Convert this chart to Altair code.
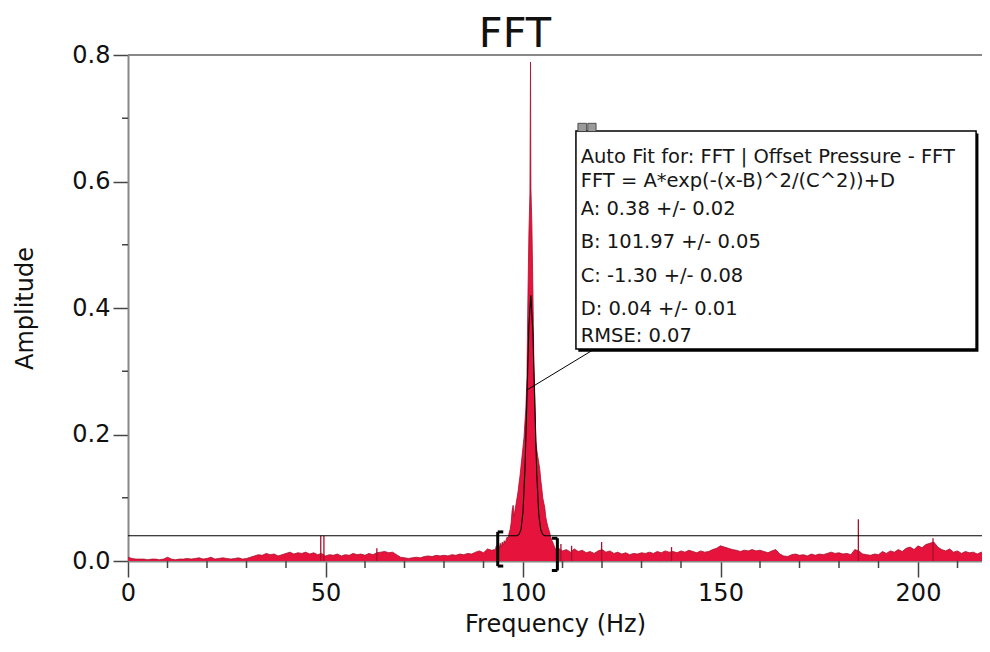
import altair as alt
import pandas as pd

FONT = "DejaVu Sans"
FILL = "#E6143C"
EDGE = "#A80F2C"
AXIS_GRAY = "#888888"
TICK = "#444444"

# ---------------- spectrum values ----------------
freq_low = list(range(0, 93))
amp_low = [
    0.006, 0.004, 0.003, 0.003, 0.003, 0.002, 0.003, 0.003, 0.002, 0.003,
    0.006, 0.003, 0.002, 0.003, 0.003, 0.004, 0.003, 0.004, 0.005, 0.003,
    0.004, 0.006, 0.003, 0.004, 0.005, 0.004, 0.003, 0.004, 0.005, 0.003,
    0.004, 0.006, 0.008, 0.010, 0.009, 0.012, 0.010, 0.011, 0.008, 0.010,
    0.012, 0.014, 0.011, 0.013, 0.012, 0.014, 0.011, 0.013, 0.010, 0.012,
    0.008, 0.010, 0.009, 0.011, 0.008, 0.010, 0.009, 0.012, 0.010, 0.011,
    0.009, 0.012, 0.010, 0.013, 0.014, 0.015, 0.013, 0.014, 0.010, 0.006,
    0.005, 0.004, 0.005, 0.006, 0.005, 0.007, 0.008, 0.007, 0.009, 0.008,
    0.009, 0.008, 0.010, 0.009, 0.011, 0.010, 0.012, 0.011, 0.014, 0.016,
    0.013, 0.019, 0.017,
]

freq_peak = [
    93.0, 93.25, 93.5, 93.75, 94.0, 94.25, 94.5, 94.75, 95.0, 95.25,
    95.5, 95.75, 96.0, 96.25, 96.5, 96.75, 97.0, 97.25, 97.5, 97.75,
    98.0, 98.25, 98.5, 98.75, 99.0, 99.25, 99.5, 99.75, 100.0, 100.25,
    100.5, 100.75, 101.0, 101.25, 101.5, 101.75, 101.9, 102.0, 102.25, 102.5,
    102.75, 103.0, 103.25, 103.5, 103.75, 104.0, 104.25, 104.5, 104.75, 105.0,
    105.25, 105.5, 105.75, 106.0, 106.25, 106.5, 106.75, 107.0, 107.25, 107.5,
    107.75, 108.0, 108.25, 108.5, 108.75,
]
amp_peak = [
    0.018, 0.024, 0.015, 0.026, 0.020, 0.028, 0.022, 0.030, 0.025, 0.032,
    0.028, 0.034, 0.038, 0.036, 0.045, 0.050, 0.060, 0.080, 0.088, 0.070,
    0.082, 0.090, 0.100, 0.110, 0.123, 0.135, 0.150, 0.165, 0.180, 0.195,
    0.220, 0.245, 0.290, 0.420, 0.520, 0.580, 0.789, 0.590, 0.530, 0.430,
    0.310, 0.260, 0.190, 0.175, 0.165, 0.155, 0.145, 0.128, 0.115, 0.100,
    0.092, 0.085, 0.070, 0.062, 0.055, 0.050, 0.045, 0.038, 0.033, 0.030,
    0.026, 0.022, 0.018, 0.021, 0.016,
]

freq_high = list(range(109, 219))
amp_high = [
    0.020, 0.016, 0.018, 0.014, 0.019, 0.015, 0.017, 0.013, 0.015, 0.012,
    0.016, 0.018, 0.014, 0.016, 0.012, 0.014, 0.011, 0.013, 0.010, 0.012,
    0.011, 0.013, 0.012, 0.014, 0.012, 0.015, 0.013, 0.016, 0.014, 0.015,
    0.013, 0.016, 0.014, 0.017, 0.015, 0.013, 0.016, 0.014, 0.015, 0.018,
    0.020, 0.024, 0.022, 0.020, 0.018, 0.017, 0.015, 0.017, 0.016, 0.018,
    0.016, 0.017, 0.015, 0.013, 0.016, 0.018, 0.011, 0.008, 0.007, 0.010,
    0.011, 0.009, 0.010, 0.008, 0.011, 0.009, 0.011, 0.010, 0.012, 0.014,
    0.012, 0.013, 0.011, 0.012, 0.010, 0.018, 0.016, 0.011, 0.010, 0.009,
    0.011, 0.010, 0.015, 0.012, 0.016, 0.014, 0.018, 0.015, 0.020, 0.022,
    0.018, 0.024, 0.021, 0.026, 0.028, 0.030, 0.022, 0.018, 0.016, 0.019,
    0.014, 0.016, 0.012, 0.015, 0.013, 0.014, 0.011, 0.014, 0.012, 0.013,
]

# narrow single-bin spikes
spike_freq = [48.8, 49.6, 63.0, 109.6, 112.3, 119.9, 137.6, 184.9, 203.8]
spike_amp = [0.040, 0.040, 0.020, 0.027, 0.024, 0.030, 0.022, 0.066, 0.036]

# Gaussian fit curve as drawn
fit_freq = [0, 98.5, 99.0, 99.5, 100.0, 100.5, 101.0, 101.5, 101.97,
            102.5, 103.0, 103.5, 104.0, 104.5, 105.0, 105.5, 218.2]
fit_amp = [0.040, 0.040, 0.042, 0.050, 0.078, 0.146, 0.258, 0.373, 0.420,
           0.362, 0.243, 0.135, 0.073, 0.049, 0.042, 0.040, 0.040]

# fit-range brackets  (x, x2, y, y2)
br_x = [93.6, 93.6, 93.6, 108.7, 107.3, 107.3]
br_x2 = [93.6, 95.0, 95.0, 108.7, 108.7, 108.7]
br_y = [-0.008, 0.046, -0.008, -0.015, 0.036, -0.015]
br_y2 = [0.046, 0.046, -0.008, 0.036, 0.036, -0.015]

# annotation box
box_x, box_x2, box_y, box_y2 = 113.4, 214.7, 0.335, 0.680
leader = [117.8, 100.9, 0.334, 0.270]
ann_lines = [
    "Auto Fit for: FFT | Offset Pressure - FFT",
    "FFT = A*exp(-(x-B)^2/(C^2))+D",
    "A: 0.38 +/- 0.02",
    "B: 101.97 +/- 0.05",
    "C: -1.30 +/- 0.08",
    "D: 0.04 +/- 0.01",
    "RMSE: 0.07",
]
ann_y = [0.6300, 0.5913, 0.547, 0.4944, 0.4416, 0.389, 0.3467]
ann_x = 114.6

y_major = [0.0, 0.2, 0.4, 0.6, 0.8]
y_minor = [0.1, 0.3, 0.5, 0.7]
x_major = [0, 50, 100, 150, 200]
x_minor = [10, 20, 30, 40, 60, 70, 80, 90, 110, 120, 130, 140, 160, 170, 180, 190, 210]

X_MAX = 216.2
W, H = 854, 506

# ---------------- build chart ----------------
spec_df = pd.DataFrame({
    "freq": freq_low + freq_peak + freq_high,
    "amp": amp_low + amp_peak + amp_high,
})
spike_df = pd.DataFrame({"freq": spike_freq, "amp": spike_amp, "base": [0.0] * len(spike_freq)})
fit_df = pd.DataFrame({"freq": fit_freq, "amp": fit_amp})
br_df = pd.DataFrame({"freq": br_x, "x2": br_x2, "amp": br_y, "y2": br_y2})
lead_df = pd.DataFrame({"freq": [leader[0]], "x2": [leader[1]], "amp": [leader[2]], "y2": [leader[3]]})
box_df = pd.DataFrame({"freq": [box_x], "x2": [box_x2], "amp": [box_y], "y2": [box_y2]})
shadow_df = pd.DataFrame({"freq": [box_x + 0.6], "x2": [box_x2 + 0.6], "amp": [box_y - 0.004], "y2": [box_y2 - 0.004]})
icon_df = pd.DataFrame({"freq": [113.9, 116.4], "x2": [116.1, 118.5], "amp": [0.679, 0.679], "y2": [0.692, 0.692]})
ann_df = pd.DataFrame({"t": ann_lines, "amp": ann_y, "freq": [ann_x] * len(ann_lines)})
ymin_df = pd.DataFrame({"amp": y_minor})
xmin_df = pd.DataFrame({"freq": x_minor})

xs = alt.Scale(domain=[0, X_MAX], nice=False, zero=False)
ys = alt.Scale(domain=[0, 0.8], nice=False)

x_axis = alt.Axis(
    values=x_major, title="Frequency (Hz)", labelFont=FONT, labelFontSize=24,
    titleFont=FONT, titleFontSize=24, titleFontWeight="normal", titleColor="#111111",
    labelColor="#111111", tickSize=16, tickWidth=1.5, tickColor=TICK,
    domainColor=AXIS_GRAY, domainWidth=2, grid=False, labelPadding=4,
    titlePadding=7, labelFlush=False, labelOverlap=False,
)
y_axis = alt.Axis(
    values=y_major, format=".1f", title="Amplitude", labelFont=FONT, labelFontSize=24,
    titleFont=FONT, titleFontSize=24, titleFontWeight="normal", titleColor="#111111",
    labelColor="#111111", tickSize=15, tickWidth=1.5, tickColor=TICK,
    domainColor=AXIS_GRAY, domainWidth=2, grid=False, labelPadding=3,
    titlePadding=34, labelFlush=False, labelOverlap=False,
)

X = lambda f: alt.X(f, scale=xs, axis=x_axis)
Y = lambda f: alt.Y(f, scale=ys, axis=y_axis)

area = alt.Chart(spec_df).mark_area(color=FILL, opacity=1, clip=True).encode(
    x=X("freq:Q"), y=Y("amp:Q"),
)
edge = alt.Chart(spec_df).mark_line(color=EDGE, strokeWidth=0.8, clip=True).encode(
    x=X("freq:Q"), y=Y("amp:Q"),
)

spikes = alt.Chart(spike_df).mark_rule(color=EDGE, strokeWidth=1.3).encode(
    x=X("freq:Q"), y=Y("base:Q"), y2="amp:Q",
)

fit = alt.Chart(fit_df).mark_line(color="#000000", strokeWidth=1.1, clip=True).encode(
    x=X("freq:Q"), y=Y("amp:Q"),
)

brackets = alt.Chart(br_df).mark_rule(color="#000000", strokeWidth=3).encode(
    x=X("freq:Q"), x2="x2:Q", y=Y("amp:Q"), y2="y2:Q",
)

lead = alt.Chart(lead_df).mark_rule(color="#000000", strokeWidth=1).encode(
    x=X("freq:Q"), x2="x2:Q", y=Y("amp:Q"), y2="y2:Q",
)

shadow = alt.Chart(shadow_df).mark_rect(color="#000000", opacity=1).encode(
    x=X("freq:Q"), x2="x2:Q", y=Y("amp:Q"), y2="y2:Q",
)

box = alt.Chart(box_df).mark_rect(fill="#ffffff", stroke="#000000", strokeWidth=1.5, opacity=1).encode(
    x=X("freq:Q"), x2="x2:Q", y=Y("amp:Q"), y2="y2:Q",
)

icons = alt.Chart(icon_df).mark_rect(fill="#9a9a9a", stroke="#333333", strokeWidth=0.8, opacity=1).encode(
    x=X("freq:Q"), x2="x2:Q", y=Y("amp:Q"), y2="y2:Q",
)

ann = alt.Chart(ann_df).mark_text(
    align="left", baseline="alphabetic", font=FONT, fontSize=19.5, color="#161616"
).encode(x=X("freq:Q"), y=Y("amp:Q"), text="t:N")

title = alt.Chart(pd.DataFrame({"t": ["FFT"]})).mark_text(
    align="center", baseline="alphabetic", font=FONT, fontSize=41.5, color="#111111"
).encode(x=alt.value(387), y=alt.value(-8), text="t:N")

top_border = alt.Chart(pd.DataFrame({"a": [0]})).mark_rule(
    color=AXIS_GRAY, strokeWidth=2
).encode(x=alt.value(0), x2=alt.value(W), y=alt.value(0))

y_minor_ticks = alt.Chart(ymin_df).mark_rule(color=TICK, strokeWidth=1.5).encode(
    y=Y("amp:Q"), x=alt.value(-6), x2=alt.value(0),
)
x_minor_ticks = alt.Chart(xmin_df).mark_rule(color=TICK, strokeWidth=1.5).encode(
    x=X("freq:Q"), y=alt.value(H), y2=alt.value(H + 7),
)

chart = alt.layer(
    area, edge, spikes, fit, brackets, lead, shadow, box, icons, ann, title,
    top_border, y_minor_ticks, x_minor_ticks,
).properties(
    width=W, height=H,
    padding={"left": 120, "top": 47, "right": 0, "bottom": 78},
    autosize=alt.AutoSizeParams(type="none"),
    background="#ffffff",
).configure_view(stroke=None)

chart.save("out.html", embed_options={"renderer": "svg", "actions": False})
